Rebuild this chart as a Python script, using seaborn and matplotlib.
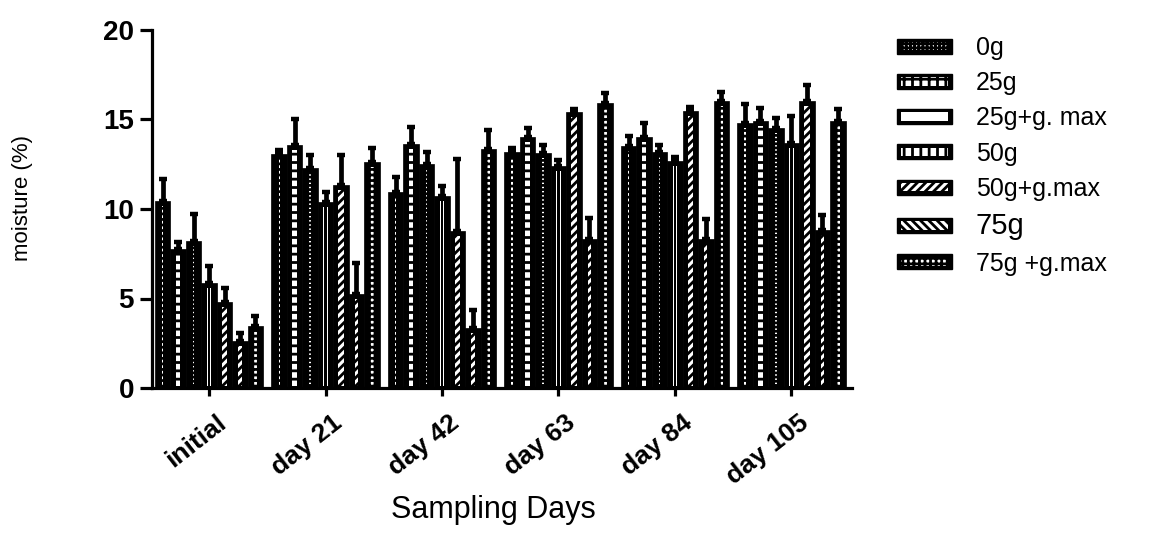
import matplotlib
matplotlib.use("Agg")
import matplotlib.pyplot as plt
import matplotlib.transforms as mtransforms
from matplotlib.patches import Patch, Rectangle
from matplotlib.legend_handler import HandlerBase
import seaborn as sns
import pandas as pd
import numpy as np

# ---------------- data ----------------
days = ["initial", "day 21", "day 42", "day 63", "day 84", "day 105"]
series = ["0g", "25g", "25g+g. max", "50g", "50g+g.max", "75g", "75g +g.max"]

m_0g = [10.45, 13.05, 10.95, 13.2, 13.5, 14.8]
m_25g = [7.75, 13.55, 13.65, 14.05, 14.05, 14.9]
m_25gmax = [8.2, 12.3, 12.5, 13.15, 13.2, 14.5]
m_50g = [5.85, 10.4, 10.7, 12.4, 12.7, 13.7]
m_50gmax = [4.8, 11.35, 8.75, 15.4, 15.5, 16.05]
m_75g = [2.6, 5.25, 3.35, 8.3, 8.3, 8.85]
m_75gmax = [3.45, 12.6, 13.35, 15.9, 16.05, 14.9]

e_0g = [1.25, 0.25, 0.85, 0.2, 0.6, 1.05]
e_25g = [0.4, 1.45, 0.95, 0.45, 0.75, 0.75]
e_25gmax = [1.5, 0.7, 0.7, 0.45, 0.4, 0.6]
e_50g = [0.95, 0.55, 0.6, 0.35, 0.2, 1.5]
e_50gmax = [0.8, 1.65, 4.05, 0.2, 0.2, 0.85]
e_75g = [0.5, 1.75, 1.0, 1.2, 1.15, 0.8]
e_75gmax = [0.6, 0.8, 1.05, 0.6, 0.5, 0.7]

means = [m_0g, m_25g, m_25gmax, m_50g, m_50gmax, m_75g, m_75gmax]
errs = [e_0g, e_25g, e_25gmax, e_50g, e_50gmax, e_75g, e_75gmax]

rows = []
for s, vals in zip(series, means):
    for d, v in zip(days, vals):
        rows.append({"day": d, "treatment": s, "moisture": v})
df = pd.DataFrame(rows)

# ---------------- style ----------------
sns.set_style("ticks")
plt.rcParams["font.family"] = ["Liberation Sans", "DejaVu Sans"]
plt.rcParams["hatch.linewidth"] = 2.0
for k in ["text.color", "axes.labelcolor", "xtick.color", "ytick.color",
          "axes.edgecolor"]:
    plt.rcParams[k] = "black"

# inner stripe styles: (width fraction, hatch, inner black core fraction)
inner_styles = [
    (0.08, "---", None),
    (0.28, "--", None),
    (0.10, "----", None),
    (0.30, "", 0.14),
    (0.34, "////", None),
    (0.20, "////", None),
    (0.26, "+++", None),
]
legend_hatches = ["++++", "++", "-", "||", "////", "\\\\\\\\", "+++"]

fig = plt.figure(figsize=(11.54, 5.36), dpi=100)
ax = fig.add_axes([152 / 1154, 1 - 388 / 536, 700 / 1154, 358 / 536])

sns.barplot(data=df, x="day", y="moisture", hue="treatment", order=days,
            hue_order=series, palette=["black"] * 7, width=0.93, gap=0,
            errorbar=None, legend=False, ax=ax, edgecolor="black",
            linewidth=0.5, saturation=1)

conts = list(ax.containers)[:7]
for i, cont in enumerate(conts):
    frac, hatch, core = inner_styles[i]
    xs = np.array([p.get_x() + p.get_width() / 2 for p in cont])
    w = cont[0].get_width()
    hs = np.array([p.get_height() for p in cont])
    ax.bar(xs, hs - 0.4, bottom=0.12, width=w * frac, color="white",
           edgecolor="black", linewidth=0, hatch=hatch, zorder=3)
    if core:
        ax.bar(xs, hs - 0.4, bottom=0.12, width=w * core, color="black",
               linewidth=0, zorder=3.5)
    ax.errorbar(xs, hs, yerr=[np.zeros(len(hs)), errs[i]], fmt="none",
                ecolor="black", elinewidth=3.4, capsize=3, capthick=3.2,
                zorder=4)

ax.set_ylim(0, 20)
ax.set_xlim(-0.49, 5.52)
ax.set_yticks([0, 5, 10, 15, 20])
sns.despine(ax=ax)
for sp in ["left", "bottom"]:
    ax.spines[sp].set_linewidth(2.3)
ax.tick_params(axis="y", length=9, width=2.3, labelsize=20, pad=4)
ax.tick_params(axis="x", length=6, width=2.3, labelsize=19, pad=17)
for lab in ax.get_yticklabels():
    lab.set_fontweight("bold")
ax.set_xticks(range(len(days)))
ax.set_xticklabels(days, rotation=38, ha="right", va="center",
                   rotation_mode="anchor", fontweight="bold")
offset = mtransforms.ScaledTranslation(0.14, 0, fig.dpi_scale_trans)
for lab in ax.get_xticklabels():
    lab.set_transform(lab.get_transform() + offset)

ax.set_ylabel("moisture (%)", fontsize=16)
ax.yaxis.set_label_coords(-0.17, 0.53)
ax.set_xlabel("Sampling Days", fontsize=22, va="top")
ax.xaxis.set_label_coords(0.487, -0.30)


class BoxHandler(HandlerBase):
    def create_artists(self, legend, orig_handle, xdescent, ydescent, width,
                       height, fontsize, trans):
        outer = Rectangle((-xdescent, -ydescent), width, height,
                          facecolor="black", edgecolor="black", linewidth=1,
                          transform=trans)
        inner = Rectangle((-xdescent + width * 0.08, -ydescent + height * 0.22),
                          width * 0.84, height * 0.56, facecolor="white",
                          edgecolor="black", linewidth=0,
                          hatch=orig_handle.get_hatch(), transform=trans)
        return [outer, inner]


handles = [Patch(hatch=h, label=s) for h, s in zip(legend_hatches, series)]
leg = fig.legend(handles=handles, loc="upper left",
                 bbox_to_anchor=(897 / 1154, 1 - 36 / 536), frameon=False,
                 fontsize=18, handlelength=2.2, handleheight=0.55,
                 handletextpad=0.95, labelspacing=0.45, borderpad=0,
                 borderaxespad=0, handler_map={Patch: BoxHandler()})
leg.get_texts()[5].set_fontsize(21)

fig.savefig("out.png", dpi=100)
